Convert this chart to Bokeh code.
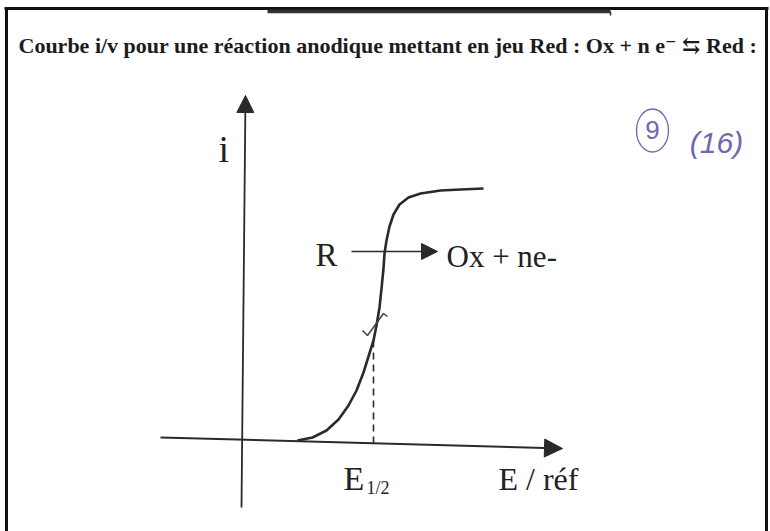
from bokeh.plotting import figure
from bokeh.models import Range1d, Arrow, NormalHead, ColumnDataSource
from bokeh.core.properties import value
from bokeh.embed import file_html
from bokeh.resources import INLINE

# Anodic i/E wave (arbitrary units): E along the potential axis, i the current
E_curve = [5.5, 7.0, 8.4, 9.6, 10.6, 11.4, 12.1, 12.6, 13.1, 13.4, 13.7, 13.9,
           14.1, 14.2, 14.4, 14.7, 15.1, 15.7, 16.6, 17.8, 19.8, 21.8, 24.1]
i_curve = [0.0, 0.3, 1.0, 2.1, 3.5, 5.0, 6.8, 8.4, 10.0, 11.5, 13.3, 15.2,
           17.2, 18.7, 20.0, 21.4, 22.6, 23.6, 24.3, 24.7, 25.0, 25.1, 25.2]
E_half = 13.1
i_at_half = 10.0

title = "Courbe i/v pour une réaction anodique  mettant en jeu Red :  Ox + n e\u207b \u21c6 Red :"
reaction_left = "R"
reaction_right = "Ox + ne-"
y_label = "i"
x_label = "E / réf"
half_label = "E"
half_sub = "1/2"
note_circled = "9"
note_page = "(16)"

INK = "#2a2a2a"
PEN = "#7066b0"
SERIF = "Liberation Serif, DejaVu Serif, serif"

p = figure(width=770, height=531, output_backend="svg", toolbar_location=None,
           x_range=Range1d(-24.2, 52.8), y_range=Range1d(-9.1, 44.0),
           min_border=0, background_fill_color="white", border_fill_color="white")
p.axis.visible = False
p.grid.visible = False
p.outline_line_color = None

# page frame (left, top, right) and the scrap of rule above it
p.segment(x0=[-23.6, -23.8, 52.4], y0=[-9.5, 43.2, -9.5],
          x1=[-23.6, 52.6, 52.4], y1=[43.3, 43.2, 43.3],
          line_color="#111111", line_width=3)
p.segment(x0=[2.5, 36.8], y0=[42.9, 42.9], x1=[36.8, 36.8], y1=[42.9, 42.5],
          line_color="#333333", line_width=[3.5, 1.5])

# axes drawn as arrows (slightly skewed like the printed sheet)
p.add_layout(Arrow(x_start=-8.2, y_start=0.3, x_end=32.0, y_end=-0.8,
                   line_color=INK, line_width=2,
                   end=NormalHead(size=18, fill_color=INK, line_color=INK)))
p.add_layout(Arrow(x_start=-0.1, y_start=-6.7, x_end=0.3, y_end=34.5,
                   line_color=INK, line_width=1.8,
                   end=NormalHead(size=17, fill_color=INK, line_color=INK)))

# the wave itself
p.line(E_curve, i_curve, line_color=INK, line_width=2.6)

# half-wave potential marker
p.segment(x0=[E_half], y0=[i_at_half], x1=[E_half], y1=[-0.3],
          line_color=INK, line_width=1.6, line_dash="7 5")

# pencil tick across the curve
p.line([12.0, 12.5, 14.1, 14.5], [11.0, 10.5, 12.7, 12.4],
       line_color="#444444", line_width=1.5)

# R -> Ox + ne- arrow
p.add_layout(Arrow(x_start=10.9, y_start=18.9, x_end=19.5, y_end=18.9,
                   line_color=INK, line_width=1.6,
                   end=NormalHead(size=16, fill_color=INK, line_color=INK)))

labels = ColumnDataSource(dict(
    x=[-2.4, 7.3, 20.4, 25.6],
    y=[29.2, 18.6, 18.4, -3.8],
    t=[y_label, reaction_left, reaction_right, x_label],
    s=["38px", "33px", "31px", "32px"],
))
p.text(x="x", y="y", text="t", source=labels, text_font=value("Liberation Serif"),
       text_font_size="s", text_color="#222222", text_baseline="middle")
p.text(x=[10.1], y=[-3.8], text=[half_label], text_font=value("Liberation Serif"),
       text_font_size="34px", text_color="#222222", text_baseline="middle")
p.text(x=[12.4], y=[-4.7], text=[half_sub], text_font=value("Liberation Serif"),
       text_font_size="18px", text_color="#222222", text_baseline="middle")

# title line
p.text(x=[-22.4], y=[39.5], text=[title], text_font=value(SERIF),
       text_font_size="22px", text_font_style="bold", text_color="#1c1c1c",
       text_baseline="middle")

# handwritten marks in the margin
p.ellipse(x=[41.0], y=[31.0], width=3.2, height=4.3, fill_color=None,
          line_color=PEN, line_width=1.3)
p.text(x=[41.0], y=[31.1], text=[note_circled], text_font=value("Liberation Sans"),
       text_font_size="26px", text_color=PEN, text_align="center",
       text_baseline="middle")
p.text(x=[47.4], y=[29.8], text=[note_page], text_font=value("Liberation Sans"),
       text_font_size="30px", text_color=PEN, text_align="center",
       text_baseline="middle", text_font_style="italic")

open("out.html", "w").write(file_html(p, INLINE))
